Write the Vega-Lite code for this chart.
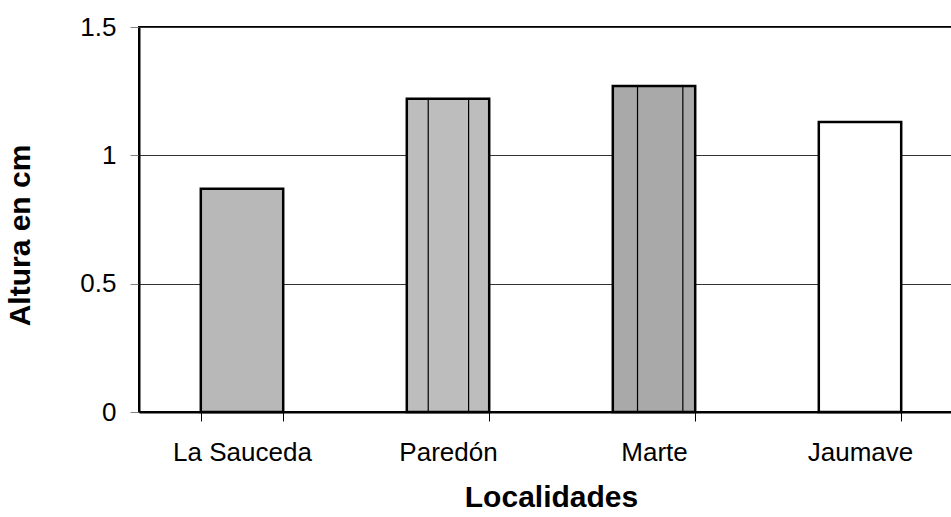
{
  "$schema": "https://vega.github.io/schema/vega-lite/v6.json",
  "autosize": "none",
  "width": 824,
  "height": 385,
  "padding": {"left": 139, "top": 27, "right": 0, "bottom": 105},
  "background": "white",
  "config": {
    "font": "Liberation Sans",
    "view": {"stroke": "black", "strokeWidth": 2}
  },
  "data": {
    "values": [
      {"localidad": "La Sauceda", "altura": 0.87, "fill": "#b8b8b8"},
      {"localidad": "Paredón", "altura": 1.22, "fill": "#bdbdbd"},
      {"localidad": "Marte", "altura": 1.27, "fill": "#a9a9a9"},
      {"localidad": "Jaumave", "altura": 1.13, "fill": "#ffffff"}
    ]
  },
  "encoding": {
    "x": {
      "field": "localidad",
      "type": "nominal",
      "sort": null,
      "scale": {"paddingInner": 0.6, "paddingOuter": 0.3},
      "axis": {
        "title": "Localidades",
        "titleFontSize": 30,
        "titleFontWeight": "bold",
        "titleColor": "black",
        "titlePadding": 17,
        "labelAngle": 0,
        "labelFontSize": 26,
        "labelColor": "black",
        "labelPadding": 18,
        "tickBand": "extent",
        "tickSize": 9,
        "tickColor": "black",
        "domainColor": "black",
        "domainWidth": 2
      }
    }
  },
  "layer": [
    {
      "mark": {"type": "bar", "stroke": "black", "strokeWidth": 2.5},
      "encoding": {
        "y": {
          "field": "altura",
          "type": "quantitative",
          "scale": {"domain": [0, 1.5], "nice": false},
          "axis": {
            "title": "Altura en cm",
            "titleFontSize": 30,
            "titleFontWeight": "bold",
            "titleColor": "black",
            "titlePadding": 44,
            "titleY": 208,
            "values": [0, 0.5, 1, 1.5],
            "format": "~g",
            "labelFontSize": 26,
            "labelColor": "black",
            "labelPadding": 14,
            "tickSize": 9,
            "tickColor": "#808080",
            "grid": true,
            "gridColor": "#333333",
            "gridWidth": 1,
            "domainColor": "black",
            "domainWidth": 2
          }
        },
        "fill": {"field": "fill", "type": "nominal", "scale": null}
      }
    },
    {
      "transform": [{"filter": "datum.localidad === 'Paredón'"}],
      "mark": {"type": "rule", "stroke": "black", "strokeWidth": 1.2},
      "encoding": {
        "x": {"field": "localidad", "type": "nominal", "sort": null, "bandPosition": 0.26},
        "y": {"field": "altura", "type": "quantitative"},
        "y2": {"datum": 0}
      }
    },
    {
      "transform": [{"filter": "datum.localidad === 'Paredón'"}],
      "mark": {"type": "rule", "stroke": "black", "strokeWidth": 1.2},
      "encoding": {
        "x": {"field": "localidad", "type": "nominal", "sort": null, "bandPosition": 0.75},
        "y": {"field": "altura", "type": "quantitative"},
        "y2": {"datum": 0}
      }
    },
    {
      "transform": [{"filter": "datum.localidad === 'Marte'"}],
      "mark": {"type": "rule", "stroke": "black", "strokeWidth": 1.2},
      "encoding": {
        "x": {"field": "localidad", "type": "nominal", "sort": null, "bandPosition": 0.3},
        "y": {"field": "altura", "type": "quantitative"},
        "y2": {"datum": 0}
      }
    },
    {
      "transform": [{"filter": "datum.localidad === 'Marte'"}],
      "mark": {"type": "rule", "stroke": "black", "strokeWidth": 1.2},
      "encoding": {
        "x": {"field": "localidad", "type": "nominal", "sort": null, "bandPosition": 0.85},
        "y": {"field": "altura", "type": "quantitative"},
        "y2": {"datum": 0}
      }
    }
  ]
}
